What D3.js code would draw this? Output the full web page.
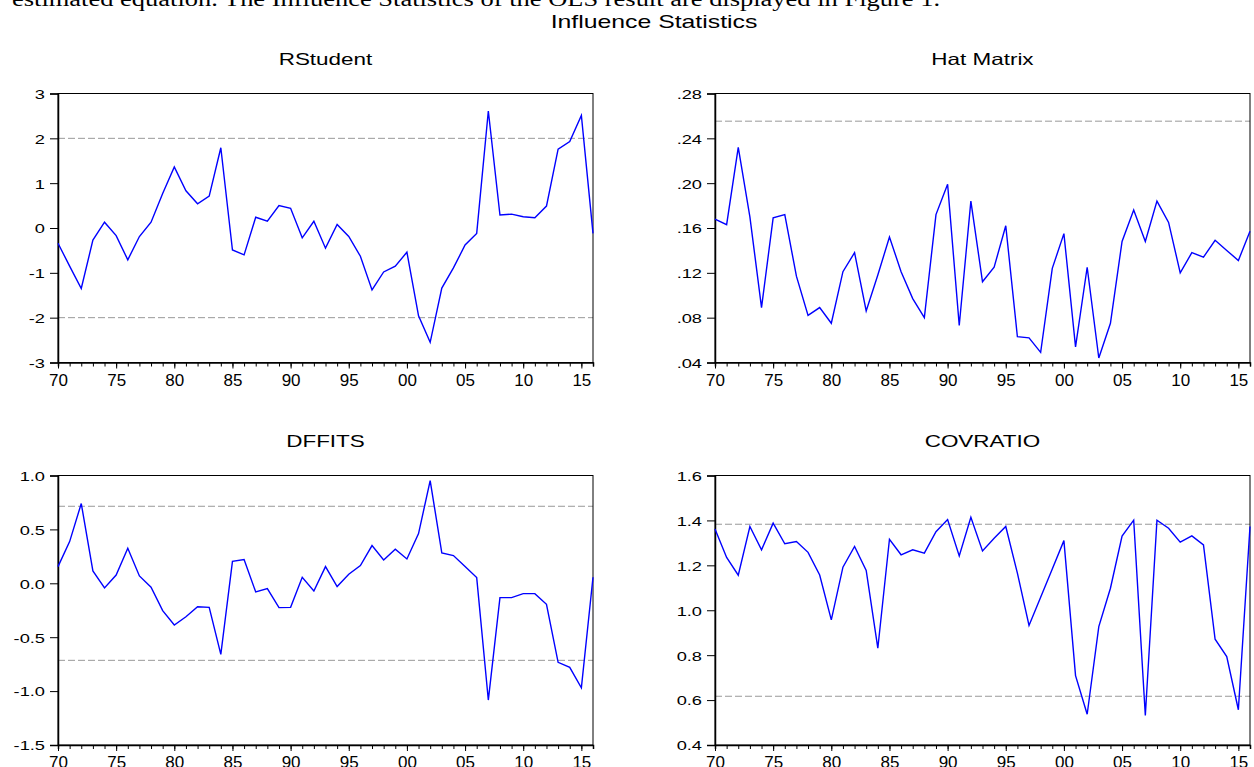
<!DOCTYPE html>
<html>
<head>
<meta charset="utf-8">
<script src="https://cdn.jsdelivr.net/npm/d3@7"></script>
<style>
  html, body { margin: 0; padding: 0; background: #fff; }
  svg { display: block; }
</style>
</head>
<body>
<svg id="chart" width="1254" height="767"></svg>
<script>
// ---------- DATA ----------
const years = [1970,1971,1972,1973,1974,1975,1976,1977,1978,1979,
               1980,1981,1982,1983,1984,1985,1986,1987,1988,1989,
               1990,1991,1992,1993,1994,1995,1996,1997,1998,1999,
               2000,2001,2002,2003,2004,2005,2006,2007,2008,2009,
               2010,2011,2012,2013,2014,2015,2016];

const rstudent = [-0.34,-0.85,-1.35,-0.27,0.13,-0.17,-0.71,-0.19,0.13,0.77,
                  1.36,0.83,0.54,0.71,1.79,-0.49,-0.60,0.24,0.15,0.50,
                  0.44,-0.22,0.15,-0.45,0.08,-0.19,-0.63,-1.38,-0.98,-0.85,
                  -0.54,-1.96,-2.55,-1.34,-0.89,-0.38,-0.12,2.61,0.29,0.31,
                  0.25,0.23,0.49,1.76,1.93,2.51,-0.12];

const hatMatrix = [0.168,0.163,0.232,0.170,0.089,0.169,0.172,0.117,0.082,0.089,
                   0.075,0.121,0.138,0.086,0.118,0.152,0.121,0.097,0.080,0.172,
                   0.199,0.073,0.184,0.112,0.125,0.162,0.063,0.062,0.049,0.124,
                   0.155,0.054,0.125,0.044,0.075,0.148,0.176,0.148,0.184,0.165,
                   0.120,0.138,0.134,0.149,0.140,0.131,0.157];

const dffits = [0.155,0.387,0.740,0.115,-0.043,0.077,0.325,0.068,-0.037,-0.254,
                -0.387,-0.310,-0.217,-0.223,-0.659,0.204,0.220,-0.080,-0.050,-0.226,
                -0.223,0.056,-0.071,0.155,-0.030,0.084,0.164,0.350,0.217,0.316,
                0.226,0.461,0.953,0.282,0.257,0.155,0.053,-1.083,-0.133,-0.133,
                -0.096,-0.096,-0.195,-0.733,-0.780,-0.970,0.056];

const covratio = [1.362,1.235,1.156,1.373,1.269,1.388,1.296,1.306,1.258,1.157,
                  0.957,1.192,1.284,1.177,0.831,1.316,1.247,1.269,1.254,1.350,
                  1.404,1.242,1.414,1.264,1.321,1.373,1.165,0.932,1.058,1.184,
                  1.310,0.709,0.537,0.927,1.098,1.330,1.401,0.531,1.401,1.365,
                  1.303,1.331,1.291,0.871,0.794,0.557,1.373];

const rstudentRef = [-2, 2];
const hatRef = [0.2553];
const dffitsRef = [-0.7146, 0.7146];
const covratioRef = [0.617, 1.383];

const rstudentTicks = [-3,-2,-1,0,1,2,3];
const rstudentLabels = ["-3","-2","-1","0","1","2","3"];
const hatTicks = [0.04,0.08,0.12,0.16,0.20,0.24,0.28];
const hatLabels = [".04",".08",".12",".16",".20",".24",".28"];
const dffitsTicks = [-1.5,-1.0,-0.5,0.0,0.5,1.0];
const dffitsLabels = ["-1.5","-1.0","-0.5","0.0","0.5","1.0"];
const covratioTicks = [0.4,0.6,0.8,1.0,1.2,1.4,1.6];
const covratioLabels = ["0.4","0.6","0.8","1.0","1.2","1.4","1.6"];

const xMajorYears = [1970,1975,1980,1985,1990,1995,2000,2005,2010,2015];
const xMajorLabels = ["70","75","80","85","90","95","00","05","10","15"];

const mainTitle = "Influence Statistics";
const topText = "estimated equation. The Influence Statistics of the OLS result are displayed in Figure 1.";

// ---------- DRAW ----------
const svg = d3.select("#chart");
const FONT = "Arial, 'Liberation Sans', sans-serif";

function stretch(sel, f) {
  sel.each(function() {
    const L = this.getComputedTextLength();
    d3.select(this).attr("textLength", L * f).attr("lengthAdjust", "spacingAndGlyphs");
  });
}

// cut-off paragraph text at the very top
svg.append("text")
  .attr("x", 12).attr("y", 6)
  .attr("font-family", "'Liberation Serif', 'Times New Roman', serif")
  .attr("font-size", 20)
  .attr("fill", "#000")
  .attr("textLength", 928).attr("lengthAdjust", "spacingAndGlyphs")
  .text(topText);

// main title
svg.append("text")
  .attr("x", 654).attr("y", 27.5)
  .attr("text-anchor", "middle")
  .attr("font-family", FONT)
  .attr("font-size", 18.5)
  .attr("fill", "#000")
  .text(mainTitle)
  .call(stretch, 1.34);

const panels = [
  {title: "RStudent", data: rstudent, refs: rstudentRef, ticks: rstudentTicks, labels: rstudentLabels,
   domain: [-3, 3], x0: 58, x1: 593, y0: 93.5, y1: 362.5},
  {title: "Hat Matrix", data: hatMatrix, refs: hatRef, ticks: hatTicks, labels: hatLabels,
   domain: [0.04, 0.28], x0: 715, x1: 1250, y0: 93.5, y1: 362.5},
  {title: "DFFITS", data: dffits, refs: dffitsRef, ticks: dffitsTicks, labels: dffitsLabels,
   domain: [-1.5, 1.0], x0: 58, x1: 593, y0: 475.5, y1: 745},
  {title: "COVRATIO", data: covratio, refs: covratioRef, ticks: covratioTicks, labels: covratioLabels,
   domain: [0.4, 1.6], x0: 715, x1: 1250, y0: 475.5, y1: 745}
];

panels.forEach(p => {
  const g = svg.append("g");
  const x = d3.scaleLinear().domain([years[0], years[years.length - 1]]).range([p.x0, p.x1]);
  const y = d3.scaleLinear().domain(p.domain).range([p.y1, p.y0]);

  // panel title
  g.append("text")
    .attr("x", (p.x0 + p.x1) / 2).attr("y", p.y0 - 29)
    .attr("text-anchor", "middle")
    .attr("font-family", FONT)
    .attr("font-size", 16.5)
    .attr("fill", "#000")
    .text(p.title)
    .call(stretch, 1.36);

  // reference lines
  g.selectAll("line.ref").data(p.refs).enter().append("line")
    .attr("class", "ref")
    .attr("x1", p.x0).attr("x2", p.x1)
    .attr("y1", d => y(d)).attr("y2", d => y(d))
    .attr("stroke", "#999")
    .attr("stroke-width", 1)
    .attr("stroke-dasharray", "7,3");

  // frame
  g.append("rect")
    .attr("x", p.x0).attr("y", p.y0)
    .attr("width", p.x1 - p.x0).attr("height", p.y1 - p.y0)
    .attr("fill", "none").attr("stroke", "#000").attr("stroke-width", 1);

  // y axis
  const yAxis = d3.axisLeft(y).tickValues(p.ticks)
    .tickFormat((d, i) => p.labels[i]).tickSize(8).tickPadding(5);
  const ya = g.append("g").attr("transform", `translate(${p.x0},0)`).call(yAxis);
  ya.select(".domain").attr("stroke", "#000").attr("stroke-width", 1.5);
  ya.selectAll(".tick line").attr("stroke", "#000").attr("stroke-width", 1);
  ya.selectAll(".tick text")
    .attr("font-family", FONT).attr("font-size", 13.5).attr("fill", "#000")
    .attr("dy", "0.36em")
    .call(stretch, 1.35);

  // x axis: minor ticks every year
  const xMinor = d3.axisBottom(x).tickValues(years).tickFormat("").tickSize(4);
  const xm = g.append("g").attr("transform", `translate(0,${p.y1})`).call(xMinor);
  xm.select(".domain").attr("stroke", "#000").attr("stroke-width", 1.5);
  xm.selectAll(".tick line").attr("stroke", "#000");

  const xMajor = d3.axisBottom(x).tickValues(xMajorYears)
    .tickFormat((d, i) => xMajorLabels[i]).tickSize(6).tickPadding(5);
  const xa = g.append("g").attr("transform", `translate(0,${p.y1})`).call(xMajor);
  xa.select(".domain").remove();
  xa.selectAll(".tick line").attr("stroke", "#000");
  xa.selectAll(".tick text")
    .attr("font-family", FONT).attr("font-size", 17).attr("fill", "#000");

  // data line
  const line = d3.line().x((d, i) => x(years[i])).y(d => y(d));
  g.append("path")
    .datum(p.data)
    .attr("d", line)
    .attr("fill", "none")
    .attr("stroke", "#0000FF")
    .attr("stroke-width", 1.4)
    .attr("stroke-linejoin", "miter");
});
</script>
</body>
</html>
